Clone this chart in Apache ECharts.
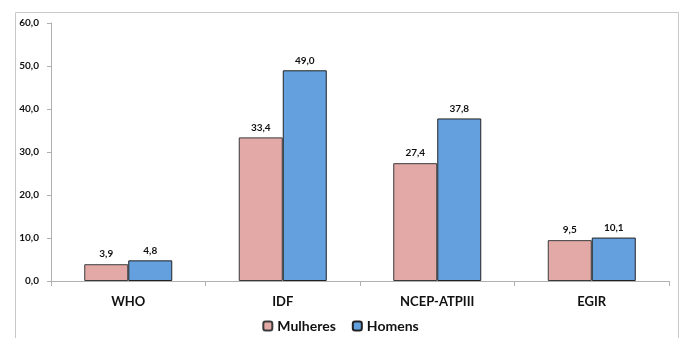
<!DOCTYPE html>
<html><head><meta charset="utf-8">
<script src="https://cdn.jsdelivr.net/npm/echarts@6/dist/echarts.min.js"></script>
<style>html,body{margin:0;padding:0;background:#fff}#c{width:681px;height:338px}</style>
</head><body><div id="c"></div>
<script>
var categories = ['WHO', 'IDF', 'NCEP-ATPIII', 'EGIR'];
var mulheres = [3.9, 33.4, 27.4, 9.5];
var homens = [4.8, 49.0, 37.8, 10.1];
var seriesNames = ['Mulheres', 'Homens'];

var fnt = 'Lato, "Open Sans", sans-serif';
function fmt(v){ return v.toFixed(1).replace('.', ','); }
var chart = echarts.init(document.getElementById('c'), null, {renderer:'canvas'});
var lbl = {show:true, position:'top', distance:5, fontFamily:fnt, fontWeight:'bold', fontSize:10, color:'#111',
  formatter:function(p){return fmt(p.value);}};
chart.setOption({
  animation:false,
  graphic:[{type:'rect', shape:{x:15.5,y:12.5,width:663,height:340}, style:{fill:null, stroke:'#c8c8c8', lineWidth:1}, z:-1}],
  grid:{left:51, right:12, top:23, bottom:57, containLabel:false},
  legend:{bottom:0, left:'center', itemWidth:9, itemHeight:9, itemGap:16,
    textStyle:{fontFamily:fnt, fontWeight:'bold', fontSize:14, color:'#111'},
    data:seriesNames},
  xAxis:{type:'category', data:categories,
    axisLine:{lineStyle:{color:'#b0b0b0'}},
    axisTick:{show:true, alignWithLabel:false, length:5, lineStyle:{color:'#b0b0b0'}},
    axisLabel:{fontFamily:fnt, fontWeight:'bold', fontSize:13, color:'#111', margin:14}},
  yAxis:{type:'value', min:0, max:60, interval:10,
    axisLine:{show:true, lineStyle:{color:'#b0b0b0'}},
    axisTick:{show:true, length:4, lineStyle:{color:'#b0b0b0'}},
    splitLine:{show:false},
    axisLabel:{fontFamily:fnt, fontWeight:'bold', fontSize:10, color:'#111', margin:12,
      formatter:function(v){return fmt(v);}}},
  series:[
    {name:seriesNames[0], type:'bar', data:mulheres, barWidth:44, barGap:'0%',
     itemStyle:{color:'#E3A9A7', borderColor:'#3a3a3a', borderWidth:1}, label:lbl},
    {name:seriesNames[1], type:'bar', data:homens, barWidth:44,
     itemStyle:{color:'#64A0DE', borderColor:'#222', borderWidth:1}, label:lbl}
  ]
});
</script></body></html>
